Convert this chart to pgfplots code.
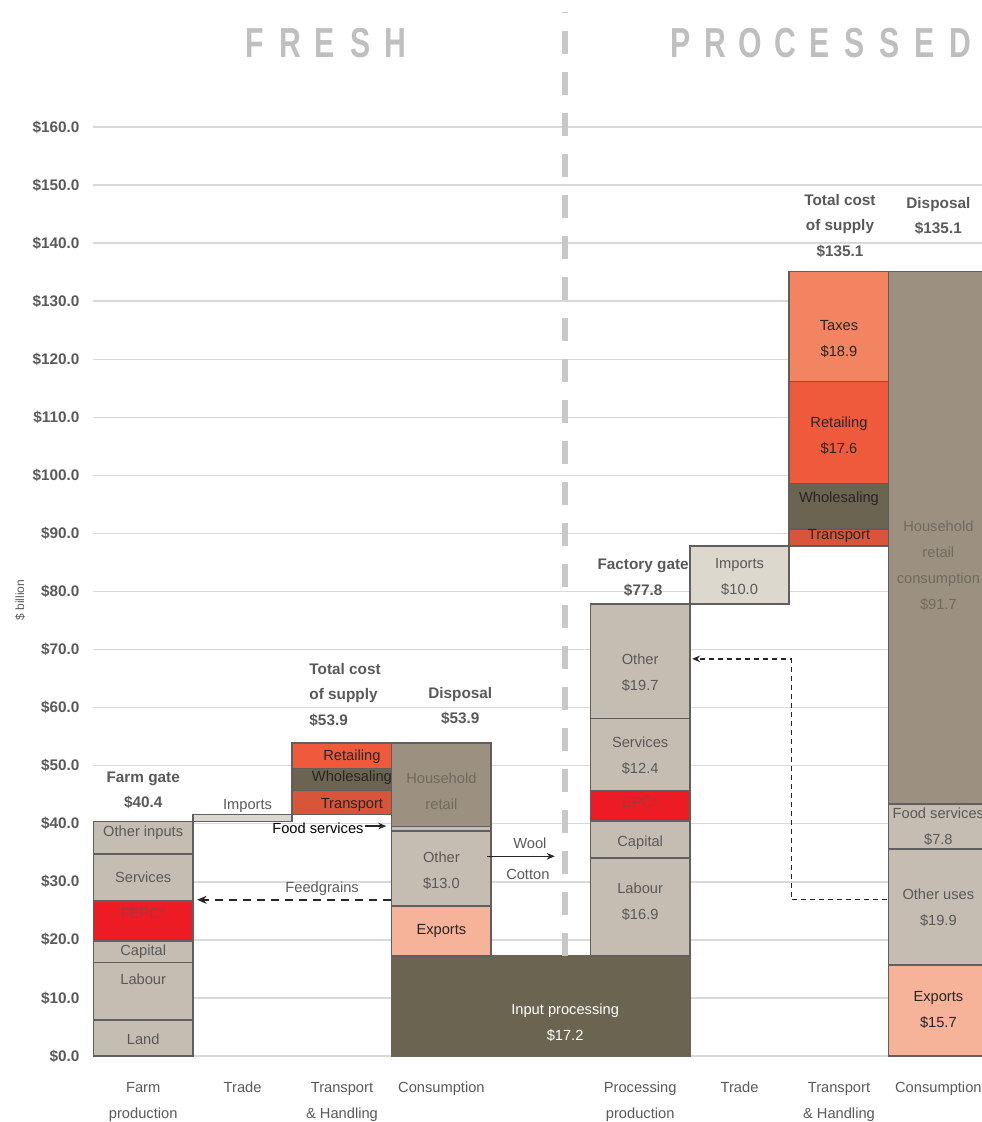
\documentclass[border=0pt]{standalone}
\usepackage{pgfplots}
\pgfplotsset{compat=1.18}
\usepackage{fontspec}
\setmainfont{Liberation Sans}
\newfontfamily\titlefont[FakeStretch=0.72]{Liberation Sans}
\usetikzlibrary{arrows.meta}

\definecolor{gridc}{HTML}{D9D9D9}
\definecolor{edgec}{HTML}{5F5F5F}
\definecolor{taupe}{HTML}{C5BDB1}
\definecolor{impc}{HTML}{DCD8CE}
\definecolor{redc}{HTML}{ED1C24}
\definecolor{retc}{HTML}{F05A3C}
\definecolor{taxc}{HTML}{F28462}
\definecolor{trc}{HTML}{D9553A}
\definecolor{olive}{HTML}{6B6450}
\definecolor{hhc}{HTML}{9C9180}
\definecolor{expc}{HTML}{F7B29A}
\definecolor{txtg}{HTML}{595959}
\definecolor{txtd}{HTML}{262626}
\definecolor{hhtxt}{HTML}{6F6A60}
\definecolor{redtxt}{HTML}{A0393E}
\definecolor{divc}{HTML}{C8C8C8}
\definecolor{titc}{HTML}{BFBFBF}

% rectangle segment: x-left, x-right, bottom, top, fill
\newcommand{\seg}[5]{\addplot[fill=#5,draw=edgec,line width=1.2pt,line join=miter] coordinates {(#1,#3) (#2,#3) (#2,#4) (#1,#4)} -- cycle;}
\newcommand{\Lt}[1]{\makebox[26.25pt]{#1}}

\tikzset{
  lab/.style={font=\fontsize{11}{19.5}\selectfont, text=txtg, align=center, inner sep=0pt},
  labd/.style={lab, text=txtd},
  hdr/.style={font=\fontsize{11.5}{19}\selectfont\bfseries, text=txtg, align=center, inner sep=0pt},
}

\begin{document}
\begin{tikzpicture}
\begin{axis}[
  at={(0,0)}, anchor=south west,
  scale only axis, width=666.375pt, height=696.75pt,
  xmin=-0.5, xmax=8.439, ymin=0, ymax=160,
  clip=false,
  axis lines=left, axis line style={draw=none,-},
  major tick length=0pt,
  ymajorgrids, grid style={gridc, line width=1.1pt},
  ytick={0,10,...,160},
  /pgf/number format/assume math mode=true,
  yticklabel={\$\pgfmathprintnumber[fixed,fixed zerofill,precision=1]{\tick}},
  yticklabel style={font=\fontsize{11.5}{13}\selectfont\bfseries, text=txtg, xshift=-7pt},
  xtick={0,1,2,3,5,6,7,8},
  xticklabels={{Farm\\production},{Trade},{Transport\\\& Handling},{Consumption},{Processing\\production},{Trade},{Transport\\\& Handling},{Consumption}},
  xticklabel style={font=\fontsize{11}{19.5}\selectfont, text=txtg, align=center, yshift=-16pt},
]
% Input processing (shared base)
\addplot[fill=olive,draw=olive,line width=1.2pt] coordinates {(2.5,0) (5.5,0) (5.5,17.2) (2.5,17.2)} -- cycle;

% Farm production
\seg{-0.5}{0.5}{0}{6.2}{taupe}
\seg{-0.5}{0.5}{6.2}{16.1}{taupe}
\seg{-0.5}{0.5}{16.1}{19.8}{taupe}
\seg{-0.5}{0.5}{19.8}{26.7}{redc}
\seg{-0.5}{0.5}{26.7}{34.8}{taupe}
\seg{-0.5}{0.5}{34.8}{40.4}{taupe}
% Trade (fresh)
\seg{0.5}{1.5}{40.4}{41.6}{impc}
% Transport & handling (fresh)
\seg{1.5}{2.5}{41.6}{45.7}{trc}
\seg{1.5}{2.5}{45.7}{49.5}{olive}
\seg{1.5}{2.5}{49.5}{53.9}{retc}
% Consumption (fresh)
\seg{2.5}{3.5}{17.2}{25.8}{expc}
\seg{2.5}{3.5}{25.8}{38.8}{taupe}
\seg{2.5}{3.5}{38.8}{39.5}{taupe}
\seg{2.5}{3.5}{39.5}{53.9}{hhc}
% Processing production
\seg{4.5}{5.5}{17.2}{34.1}{taupe}
\seg{4.5}{5.5}{34.1}{40.5}{taupe}
\seg{4.5}{5.5}{40.5}{45.7}{redc}
\seg{4.5}{5.5}{45.7}{58.1}{taupe}
\seg{4.5}{5.5}{58.1}{77.8}{taupe}
% Trade (processed)
\seg{5.5}{6.5}{77.8}{87.8}{impc}
% Transport & handling (processed)
\seg{6.5}{7.5}{87.8}{90.8}{trc}
\seg{6.5}{7.5}{90.8}{98.6}{olive}
\seg{6.5}{7.5}{98.6}{116.2}{retc}
\seg{6.5}{7.5}{116.2}{135.1}{taxc}
% Consumption (processed)
\seg{7.5}{8.5}{0}{15.7}{expc}
\seg{7.5}{8.5}{15.7}{35.6}{taupe}
\seg{7.5}{8.5}{35.6}{43.4}{taupe}
\seg{7.5}{8.5}{43.4}{135.1}{hhc}

% divider
\addplot[divc, line width=4pt, dash pattern=on 17pt off 13.75pt] coordinates {(4.245,17.2) (4.245,179.8)};

% arrows
\addplot[txtd, line width=1.5pt, dash pattern=on 6pt off 4.5pt, -{Stealth[length=7pt,width=6pt]}] coordinates {(2.495,26.9) (0.543,26.9)};
\addplot[txtd, line width=1.1pt, -{Stealth[length=6pt,width=5pt]}] coordinates {(2.23,39.6) (2.445,39.6)};
\addplot[txtd, line width=1.1pt, -{Stealth[length=6pt,width=5pt]}] coordinates {(3.46,34.4) (4.14,34.4)};
\addplot[txtd, line width=1pt, dash pattern=on 3.75pt off 3pt, -{Stealth[length=6pt,width=5pt]}] coordinates {(7.485,26.9) (6.52,26.9) (6.52,68.4) (5.523,68.4)};

% titles
\node[font=\titlefont\fontsize{31.5}{32}\selectfont\bfseries, text=titc, inner sep=0pt] at (axis cs:1.83,174.5) {\Lt{F}\Lt{R}\Lt{E}\Lt{S}\Lt{H}};
\node[font=\titlefont\fontsize{31.5}{32}\selectfont\bfseries, text=titc, inner sep=0pt] at (axis cs:6.81,174.5) {\Lt{P}\Lt{R}\Lt{O}\Lt{C}\Lt{E}\Lt{S}\Lt{S}\Lt{E}\Lt{D}};

% y label
\node[font=\fontsize{9}{10}\selectfont, text=txtg, rotate=90, inner sep=0pt] at ([xshift=-55pt]axis cs:-0.5,78.5) {\$ billion};

% headers
\node[hdr] at (axis cs:0,45.75) {Farm gate\\\$40.4};
\node[hdr, align=left, anchor=west] at (axis cs:1.67,62.2) {Total cost\\of supply\\\$53.9};
\node[hdr] at (axis cs:3.19,60.25) {Disposal\\\$53.9};
\node[hdr] at (axis cs:5.03,82.35) {Factory gate\\\$77.8};
\node[hdr] at (axis cs:7.01,143.0) {Total cost\\of supply\\\$135.1};
\node[hdr] at (axis cs:8.0,144.65) {Disposal\\\$135.1};

% farm labels
\node[lab] at (axis cs:0,2.8) {Land};
\node[lab] at (axis cs:0,13.3) {Labour};
\node[lab] at (axis cs:0,17.9) {Capital};
\node[lab, text=redtxt] at (axis cs:0,24.5) {FEPC*};
\node[lab] at (axis cs:0,30.7) {Services};
\node[lab] at (axis cs:0,38.4) {Other inputs};
\node[lab] at (axis cs:1.05,43.1) {Imports};
\node[labd] at (axis cs:2.1,43.2) {Transport};
\node[labd] at (axis cs:2.1,47.9) {Wholesaling};
\node[labd] at (axis cs:2.1,51.5) {Retailing};
\node[lab, text=black, anchor=east] at (axis cs:2.22,39.3) {Food services};
\node[lab] at (axis cs:1.80,28.8) {Feedgrains};
\node[lab, text=hhtxt] at (axis cs:3.0,45.55) {Household\\retail};
\node[lab] at (axis cs:3.0,31.85) {Other\\\$13.0};
\node[labd] at (axis cs:3.0,21.5) {Exports};
\node[lab] at (axis cs:3.89,36.7) {Wool};
\node[lab] at (axis cs:3.87,31.2) {Cotton};
\node[lab, text=white] at (axis cs:4.245,5.75) {Input processing\\\$17.2};
% processing
\node[lab] at (axis cs:5,26.55) {Labour\\\$16.9};
\node[lab] at (axis cs:5,36.7) {Capital};
\node[lab, text=redtxt] at (axis cs:5,43.6) {EPC*};
\node[lab] at (axis cs:5,51.65) {Services\\\$12.4};
\node[lab] at (axis cs:5,65.95) {Other\\\$19.7};
\node[lab] at (axis cs:6,82.5) {Imports\\\$10.0};
\node[labd] at (axis cs:7,89.6) {Transport};
\node[labd] at (axis cs:7,95.9) {Wholesaling};
\node[labd] at (axis cs:7,106.75) {Retailing\\\$17.6};
\node[labd] at (axis cs:7,123.5) {Taxes\\\$18.9};
\node[lab, text=hhtxt] at (axis cs:8,84.5) {Household\\retail\\consumption\\\$91.7};
\node[lab] at (axis cs:8,39.55) {Food services\\\$7.8};
\node[lab] at (axis cs:8,25.55) {Other uses\\\$19.9};
\node[labd] at (axis cs:8,7.85) {Exports\\\$15.7};
\end{axis}
\pgfresetboundingbox
\path[use as bounding box] (-70.125pt,-49.5pt) rectangle (666.375pt,792pt);
\end{tikzpicture}
\end{document}
